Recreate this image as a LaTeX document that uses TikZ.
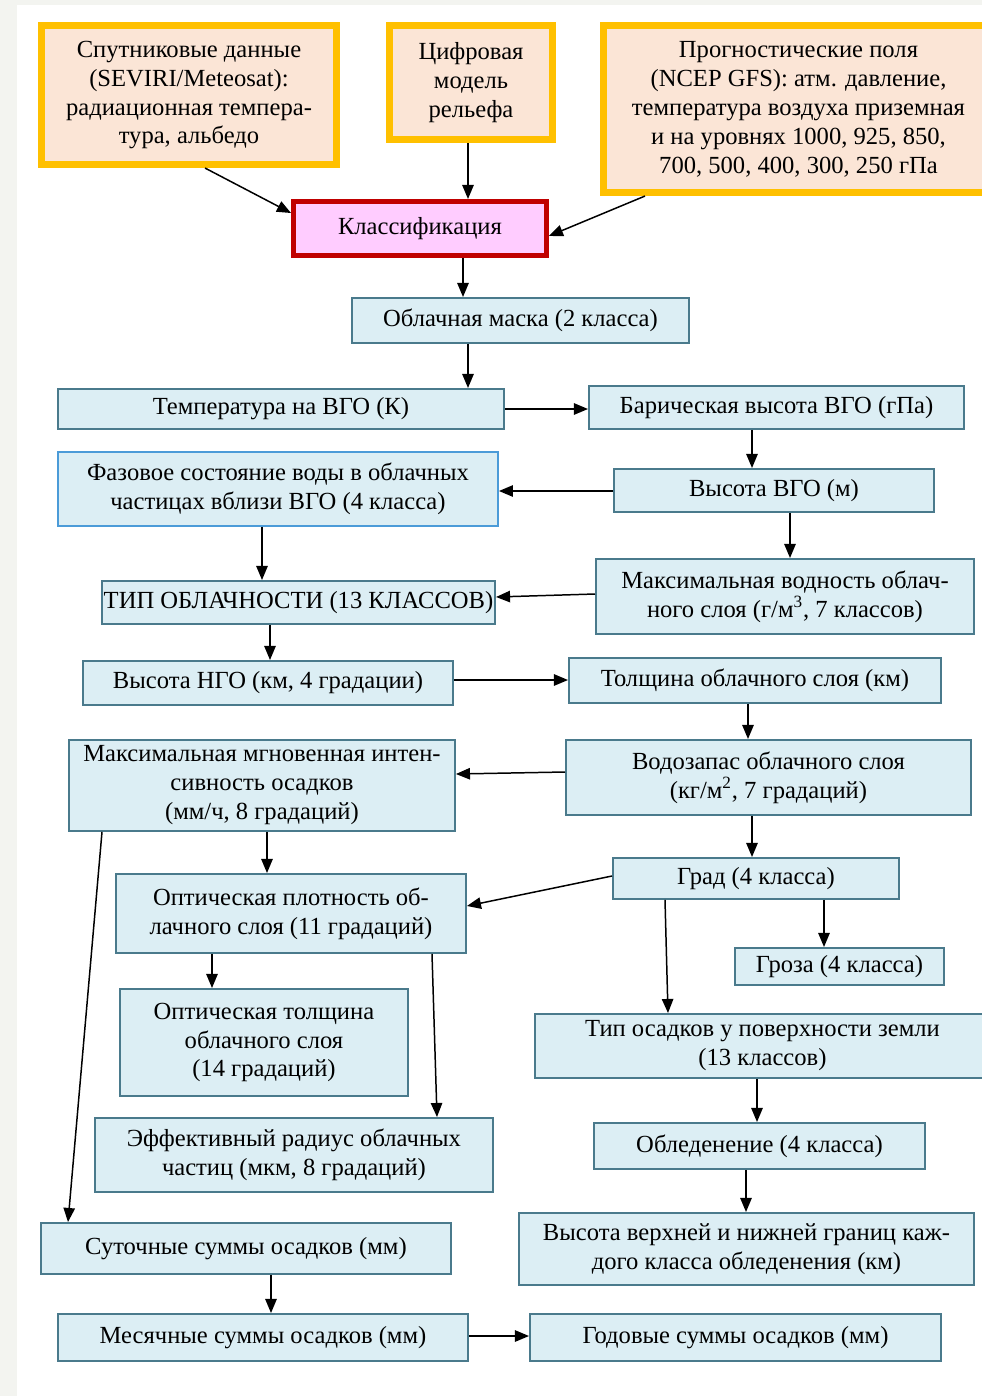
\documentclass[tikz,border=0pt]{standalone}
\usepackage{fontspec}
\setmainfont{Liberation Serif}
\usetikzlibrary{arrows.meta}

\definecolor{pagegray}{HTML}{F3F4F0}
\definecolor{srcline}{HTML}{FFC000}
\definecolor{srcfill}{HTML}{FBE5D6}
\definecolor{clsline}{HTML}{C00000}
\definecolor{clsfill}{HTML}{FFCCFF}
\definecolor{boxline}{HTML}{4A7A8C}
\definecolor{boxfill}{HTML}{DCEEF4}
\definecolor{phaseline}{HTML}{4B9BD8}

\tikzset{
    sz/.style 2 args={minimum width=#1*0.02cm, minimum height=#2*0.02cm},
    blk/.style={draw=boxline, fill=boxfill, line width=1.1pt, anchor=north west,
        align=center, inner sep=1pt, font=\fontsize{14}{16.5}\selectfont},
    srcblk/.style={blk, draw=srcline, fill=srcfill, line width=4pt},
    clsblk/.style={blk, draw=clsline, fill=clsfill, line width=2.8pt},
    arr/.style={-{Triangle[length=8pt,width=6.5pt]}, line width=0.85pt, black},
}

\begin{document}
\begin{tikzpicture}[x=0.02cm, y=-0.02cm]

    %Fondo
    \clip (0,0) rectangle (982,1396);
    \fill[pagegray] (0,0) rectangle (982,1396);
    \fill[white] (17,5) rectangle (982,1396);

    %Fuentes
    \node[srcblk, sz={295}{139}] (sat) at (38,22) {Спутниковые данные\\(SEVIRI/Meteosat):\\радиационная темпера-\\тура, альбедо};
    \node[srcblk, sz={163}{114}] (dem) at (386,22) {Цифровая\\модель\\рельефа};
    \node[srcblk, sz={390}{167}] (gfs) at (600,22) {Прогностические поля\\(NCEP GFS): атм. давление,\\температура воздуха приземная\\и на уровнях 1000, 925, 850,\\700, 500, 400, 300, 250 гПа};
    \node[clsblk, sz={253}{54}] (cls) at (291,199) {Классификация};

    %Bloques izquierda
    \node[blk, sz={337}{45}] (mask) at (351,297) {Облачная маска (2 класса)};
    \node[blk, sz={446}{40}] (tvgo) at (57,388) {Температура на ВГО (К)};
    \node[blk, draw=phaseline, sz={440}{74}] (phase) at (57,451) {Фазовое состояние воды в облачных\\частицах вблизи ВГО (4 класса)};
    \node[blk, sz={366}{43}] (tip) at (101,580) {ТИП ОБЛАЧНОСТИ (13 КЛАССОВ)};
    \node[blk, sz={370}{44}] (hngo) at (82,660) {Высота НГО (км, 4 градации)};
    \node[blk, sz={386}{91}] (maxi) at (68,739) {Максимальная мгновенная интен-\\сивность осадков\\(мм/ч, 8 градаций)};
    \node[blk, sz={350}{79}] (opt) at (115,873) {Оптическая плотность об-\\лачного слоя (11 градаций)};
    \node[blk, sz={288}{107}] (optt) at (119,988) {Оптическая толщина\\облачного слоя\\(14 градаций)};
    \node[blk, sz={398}{74}] (reff) at (94,1117) {Эффективный радиус облачных\\частиц (мкм, 8 градаций)};
    \node[blk, sz={410}{51}] (daily) at (40,1222) {Суточные суммы осадков (мм)};
    \node[blk, sz={410}{47}] (monthly) at (57,1313) {Месячные суммы осадков (мм)};

    %Bloques derecha
    \node[blk, sz={375}{43}] (pvgo) at (588,385) {Барическая высота ВГО (гПа)};
    \node[blk, sz={320}{43}] (hvgo) at (613,468) {Высота ВГО (м)};
    \node[blk, sz={378}{75}] (maxw) at (595,558) {Максимальная водность облач-\\ного слоя (г/м\textsuperscript{3}, 7 классов)};
    \node[blk, sz={372}{45}] (thick) at (568,657) {Толщина облачного слоя (км)};
    \node[blk, sz={405}{75}] (wp) at (565,739) {Водозапас облачного слоя\\(кг/м\textsuperscript{2}, 7 градаций)};
    \node[blk, sz={286}{41}] (grad) at (612,857) {Град (4 класса)};
    \node[blk, sz={209}{37}] (groza) at (734,947) {Гроза (4 класса)};
    \node[blk, sz={455}{64}] (ptype) at (534,1013) {Тип осадков у поверхности земли\\(13 классов)};
    \node[blk, sz={331}{46}] (icing) at (593,1122) {Обледенение (4 класса)};
    \node[blk, sz={455}{72}] (icingh) at (518,1212) {Высота верхней и нижней границ каж-\\дого класса обледенения (км)};
    \node[blk, sz={411}{47}] (annual) at (529,1313) {Годовые суммы осадков (мм)};

    %Flechas
    \draw[arr] (sat.south -| 205,0) -- (cls.west |- 0,213);
    \draw[arr] (dem.south -| 468,0) -- (cls.north -| 468,0);
    \draw[arr] (gfs.south -| 645,0) -- (cls.east |- 0,236);
    \draw[arr] (cls.south -| 463,0) -- (mask.north -| 463,0);
    \draw[arr] (mask.south -| 468,0) -- (tvgo.north -| 468,0);
    \draw[arr] (tvgo.east |- 0,409) -- (pvgo.west |- 0,409);
    \draw[arr] (pvgo.south -| 752,0) -- (hvgo.north -| 752,0);
    \draw[arr] (hvgo.west |- 0,491) -- (phase.east |- 0,491);
    \draw[arr] (phase.south -| 262,0) -- (tip.north -| 262,0);
    \draw[arr] (hvgo.south -| 790,0) -- (maxw.north -| 790,0);
    \draw[arr] (maxw.west |- 0,594) -- (tip.east |- 0,597);
    \draw[arr] (tip.south -| 270,0) -- (hngo.north -| 270,0);
    \draw[arr] (hngo.east |- 0,680) -- (thick.west |- 0,680);
    \draw[arr] (thick.south -| 748,0) -- (wp.north -| 748,0);
    \draw[arr] (wp.west |- 0,772) -- (maxi.east |- 0,774);
    \draw[arr] (wp.south -| 752,0) -- (grad.north -| 752,0);
    \draw[arr] (maxi.south -| 267,0) -- (opt.north -| 267,0);
    \draw[arr] (grad.west |- 0,876) -- (opt.east |- 0,906);
    \draw[arr] (grad.south -| 824,0) -- (groza.north -| 824,0);
    \draw[arr] (grad.south -| 665,0) -- (ptype.north -| 668,0);
    \draw[arr] (opt.south -| 212,0) -- (optt.north -| 212,0);
    \draw[arr] (opt.south -| 432,0) -- (reff.north -| 437,0);
    \draw[arr] (ptype.south -| 757,0) -- (icing.north -| 757,0);
    \draw[arr] (maxi.south -| 102,0) -- (daily.north -| 68,0);
    \draw[arr] (icing.south -| 746,0) -- (icingh.north -| 746,0);
    \draw[arr] (daily.south -| 271,0) -- (monthly.north -| 271,0);
    \draw[arr] (monthly.east |- 0,1336) -- (annual.west |- 0,1336);

\end{tikzpicture}
\end{document}
